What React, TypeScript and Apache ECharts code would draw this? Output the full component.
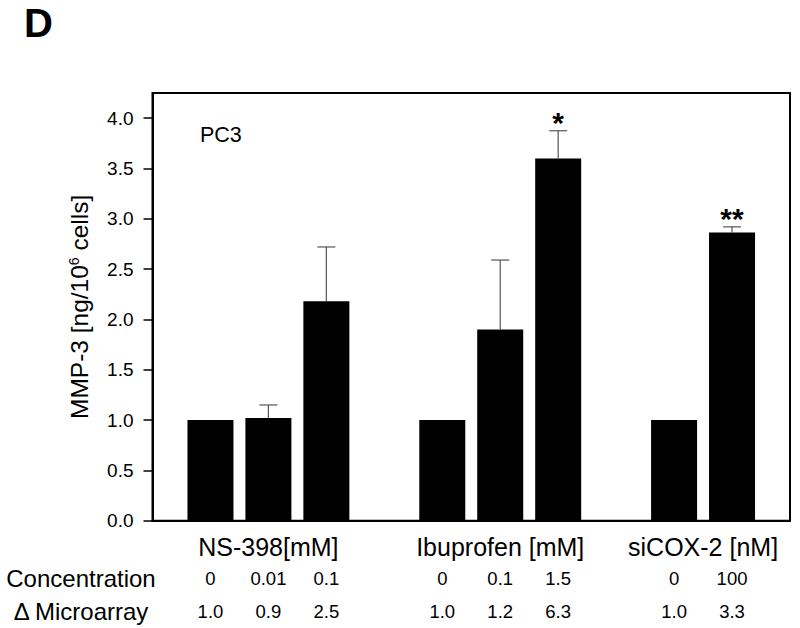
import React, { useEffect, useRef } from 'react';
import * as echarts from 'echarts';

const panelLabel = 'D';
const cellLine = 'PC3';
const yAxisTitle = 'MMP-3 [ng/10{sup|6} cells]';
const rowHeaders = ['Concentration', 'Δ Microarray'];
const groupNames = ['NS-398[mM]', 'Ibuprofen [mM]', 'siCOX-2 [nM]'];
const concentrations = [['0', '0.01', '0.1'], ['0', '0.1', '1.5'], ['0', '100']];
const microarray = [['1.0', '0.9', '2.5'], ['1.0', '1.2', '6.3'], ['1.0', '3.3']];
const mmp3Mean = [[1.0, 1.02, 2.18], [1.0, 1.9, 3.6], [1.0, 2.865]];
const mmp3Error = [[0, 0.13, 0.54], [0, 0.69, 0.275], [0, 0.055]];
const significance = [['', '', ''], ['', '', '*'], ['', '**']];
const yTicks = [0, 0.5, 1.0, 1.5, 2.0, 2.5, 3.0, 3.5, 4.0];

const FONT = '"Liberation Sans", Arial, Helvetica, sans-serif';

export default function App() {
  const ref = useRef<HTMLDivElement>(null);
  useEffect(() => {
    if (!ref.current) return;
    const chart = echarts.init(ref.current, undefined, { renderer: 'svg' });

    const categories: string[] = [''];
    const microLabels: string[] = [''];
    const barData: (number | string)[] = ['-'];
    const errData: number[][] = [];
    const errSig: string[] = [];
    const groupCenters: number[] = [];
    groupNames.forEach((_, gi) => {
      const start = categories.length;
      concentrations[gi].forEach((c, i) => {
        const idx = categories.length;
        categories.push(c);
        microLabels.push(microarray[gi][i]);
        barData.push(mmp3Mean[gi][i]);
        if (mmp3Error[gi][i] > 0 || significance[gi][i]) {
          errData.push([idx, mmp3Mean[gi][i], mmp3Mean[gi][i] + mmp3Error[gi][i]]);
          errSig.push(significance[gi][i]);
        }
      });
      groupCenters.push((start + categories.length - 1) / 2);
      categories.push('');
      microLabels.push('');
      barData.push('-');
    });

    const option: any = {
      animation: false,
      backgroundColor: '#fff',
      textStyle: { fontFamily: FONT },
      grid: {
        left: 152.5, right: 10, top: 93, bottom: 107.3,
        show: true, borderColor: '#000', borderWidth: 2,
      },
      xAxis: [
        {
          type: 'category', data: categories, boundaryGap: false, position: 'bottom',
          axisLine: { show: true, onZero: false, lineStyle: { color: '#000', width: 2 } },
          axisTick: { show: false },
          splitLine: { show: false },
          axisLabel: {
            interval: 0, margin: 58, verticalAlign: 'middle', fontSize: 18.5,
            color: '#000', fontFamily: FONT,
          },
        },
        {
          type: 'category', data: microLabels, boundaryGap: false, position: 'bottom',
          axisLine: { show: false, onZero: false }, axisTick: { show: false }, splitLine: { show: false },
          axisLabel: {
            interval: 0, margin: 91, verticalAlign: 'middle', fontSize: 18.5,
            color: '#000', fontFamily: FONT,
          },
        },
        {
          type: 'value', min: 0, max: categories.length - 1, position: 'bottom',
          axisLine: { show: false, onZero: false }, axisTick: { show: false }, splitLine: { show: false },
          axisLabel: {
            customValues: groupCenters,
            formatter: (v: number) => {
              const k = groupCenters.indexOf(v);
              return k >= 0 ? groupNames[k] : '';
            },
            margin: 26, verticalAlign: 'middle', fontSize: 25, color: '#000', fontFamily: FONT,
          },
        },
      ],
      yAxis: {
        type: 'value', min: 0, max: 4.25, position: 'left',
        axisLine: { show: true, lineStyle: { color: '#000', width: 2 } },
        axisTick: { show: true, length: 9, customValues: yTicks, lineStyle: { color: '#000', width: 1.5 } },
        splitLine: { show: false },
        axisLabel: {
          customValues: yTicks,
          formatter: (v: number) => v.toFixed(1),
          fontSize: 19, margin: 19, color: '#000', fontFamily: FONT,
        },
        name: yAxisTitle,
        nameLocation: 'middle',
        nameGap: 60,
        nameRotate: 90,
        nameTextStyle: {
          fontSize: 24.5, color: '#000', fontFamily: FONT,
          rich: {
            sup: { fontSize: 14, verticalAlign: 'top', color: '#000', fontFamily: FONT, padding: [0, 0, 12, 0] },
          },
        },
      },
      series: [
        {
          type: 'bar', xAxisIndex: 0, data: barData, barWidth: 46,
          itemStyle: { color: '#000' }, silent: true,
        },
        {
          type: 'custom', xAxisIndex: 0, data: errData, z: 5, silent: true,
          renderItem: (params: any, api: any) => {
            const x = api.value(0);
            const mean = api.value(1);
            const top = api.value(2);
            const p0 = api.coord([x, mean]);
            const p1 = api.coord([x, top]);
            const children: any[] = [];
            if (top > mean) {
              children.push({ type: 'line', shape: { x1: p0[0], y1: p0[1], x2: p1[0], y2: p1[1] }, style: { stroke: '#555', lineWidth: 1.2 } });
              children.push({ type: 'line', shape: { x1: p1[0] - 9, y1: p1[1], x2: p1[0] + 9, y2: p1[1] }, style: { stroke: '#555', lineWidth: 1.2 } });
            }
            const sig = errSig[params.dataIndex];
            if (sig) {
              children.push({
                type: 'text', x: p1[0], y: p1[1] - 8,
                style: { text: sig, fontSize: 30, fontWeight: 'bold', fontFamily: FONT, fill: '#000', align: 'center', verticalAlign: 'middle' },
              });
            }
            return { type: 'group', children };
          },
        },
      ],
      graphic: [
        { type: 'text', x: 24, y: 22.5, style: { text: panelLabel, fontSize: 40, fontWeight: 'bold', fontFamily: FONT, fill: '#000', verticalAlign: 'middle' } },
        { type: 'text', x: 200, y: 134.5, style: { text: cellLine, fontSize: 21.5, fontFamily: FONT, fill: '#000', verticalAlign: 'middle' } },
        { type: 'text', x: 81, y: 578, style: { text: rowHeaders[0], fontSize: 24, fontFamily: FONT, fill: '#000', align: 'center', verticalAlign: 'middle' } },
        { type: 'text', x: 81, y: 611, style: { text: rowHeaders[1], fontSize: 24, fontFamily: FONT, fill: '#000', align: 'center', verticalAlign: 'middle' } },
      ],
    };
    chart.setOption(option);
    return () => chart.dispose();
  }, []);
  return <div ref={ref} style={{ position: 'absolute', left: 0, top: 0, width: 800, height: 628 }} />;
}
